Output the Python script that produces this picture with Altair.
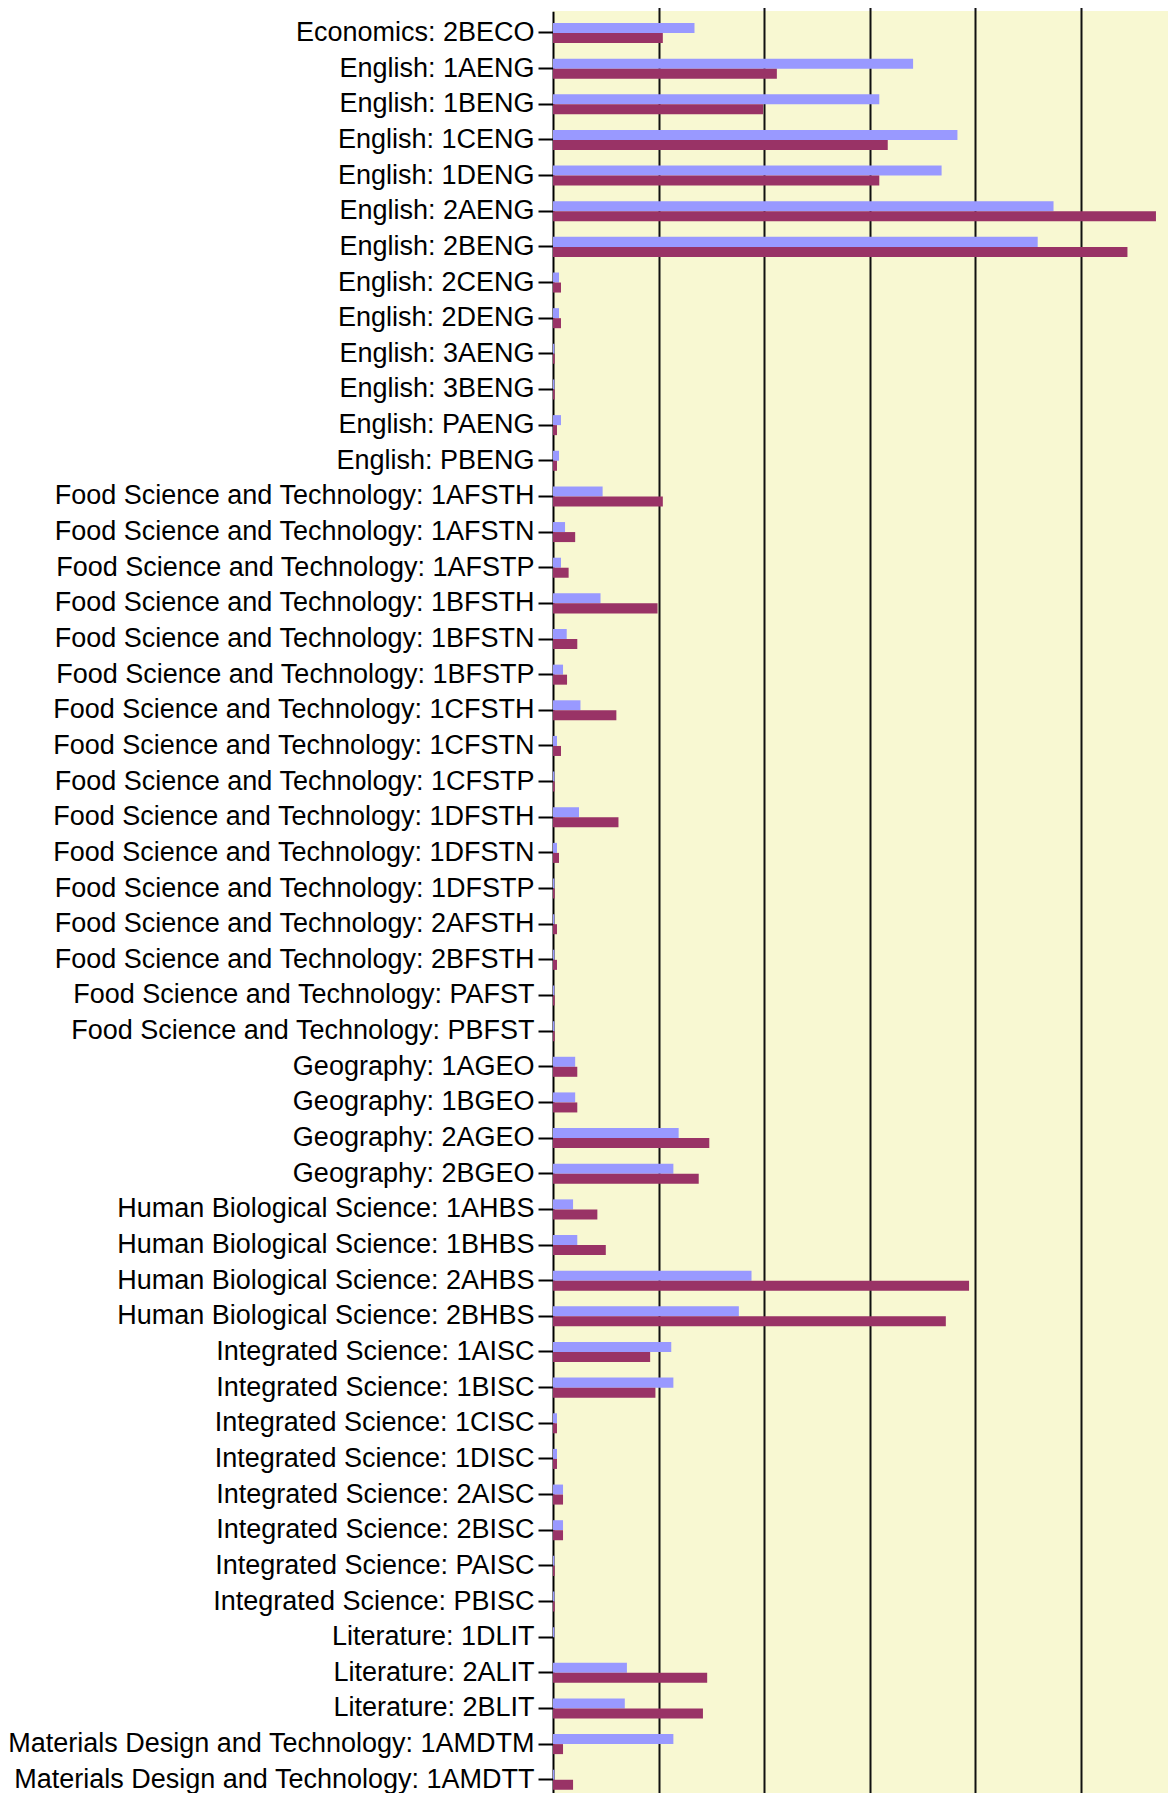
import altair as alt
import pandas as pd

categories = [
    "Economics: 2BECO",
    "English: 1AENG", "English: 1BENG", "English: 1CENG", "English: 1DENG",
    "English: 2AENG", "English: 2BENG", "English: 2CENG", "English: 2DENG",
    "English: 3AENG", "English: 3BENG", "English: PAENG", "English: PBENG",
    "Food Science and Technology: 1AFSTH", "Food Science and Technology: 1AFSTN",
    "Food Science and Technology: 1AFSTP", "Food Science and Technology: 1BFSTH",
    "Food Science and Technology: 1BFSTN", "Food Science and Technology: 1BFSTP",
    "Food Science and Technology: 1CFSTH", "Food Science and Technology: 1CFSTN",
    "Food Science and Technology: 1CFSTP", "Food Science and Technology: 1DFSTH",
    "Food Science and Technology: 1DFSTN", "Food Science and Technology: 1DFSTP",
    "Food Science and Technology: 2AFSTH", "Food Science and Technology: 2BFSTH",
    "Food Science and Technology: PAFST", "Food Science and Technology: PBFST",
    "Geography: 1AGEO", "Geography: 1BGEO", "Geography: 2AGEO", "Geography: 2BGEO",
    "Human Biological Science: 1AHBS", "Human Biological Science: 1BHBS",
    "Human Biological Science: 2AHBS", "Human Biological Science: 2BHBS",
    "Integrated Science: 1AISC", "Integrated Science: 1BISC",
    "Integrated Science: 1CISC", "Integrated Science: 1DISC",
    "Integrated Science: 2AISC", "Integrated Science: 2BISC",
    "Integrated Science: PAISC", "Integrated Science: PBISC",
    "Literature: 1DLIT", "Literature: 2ALIT", "Literature: 2BLIT",
    "Materials Design and Technology: 1AMDTM",
    "Materials Design and Technology: 1AMDTT",
]

series_names = ["Series 1", "Series 2"]

series_1 = [
    13.4,
    34.1, 30.9, 38.3, 36.8, 47.4, 45.9, 0.57, 0.57, 0.13, 0.13, 0.76, 0.57,
    4.7, 1.14, 0.76, 4.5, 1.3, 0.95, 2.6, 0.38, 0.13, 2.46, 0.38, 0.13,
    0.13, 0.13, 0.13, 0.13,
    2.1, 2.1, 11.9, 11.4,
    1.9, 2.3, 18.8, 17.6,
    11.2, 11.4, 0.38, 0.38, 0.95, 0.95, 0.13, 0.13,
    0.13, 7.0, 6.8,
    11.4, 0.13,
]

series_2 = [
    10.4,
    21.2, 19.9, 31.7, 30.9, 57.1, 54.4, 0.76, 0.76, 0.16, 0.16, 0.38, 0.38,
    10.4, 2.1, 1.48, 9.9, 2.3, 1.33, 6.0, 0.76, 0.16, 6.2, 0.57, 0.16,
    0.38, 0.38, 0.16, 0.16,
    2.3, 2.3, 14.8, 13.8,
    4.2, 5.0, 39.4, 37.2,
    9.2, 9.7, 0.38, 0.38, 0.95, 0.95, 0.16, 0.16,
    0.0, 14.6, 14.2,
    0.95, 1.9,
]

grid_values = [10, 20, 30, 40, 50]
colors = ["#9999FF", "#993366"]

rows = []
for cat, a, b in zip(categories, series_1, series_2):
    rows.append({"label": cat, "series": series_names[0], "value": a})
    rows.append({"label": cat, "series": series_names[1], "value": b})
df = pd.DataFrame(rows)

chart = (
    alt.Chart(df)
    .mark_bar()
    .encode(
        y=alt.Y(
            "label:N",
            sort=categories,
            scale=alt.Scale(paddingInner=0, paddingOuter=0.11, range=[0.25, 1790.5]),
            axis=alt.Axis(
                title=None,
                labelFont="Liberation Sans",
                labelFontSize=27,
                labelColor="black",
                labelPadding=4,
                labelLimit=0,
                tickColor="black",
                tickSize=15,
                tickWidth=2,
                domainColor="black",
                domainWidth=2,
                grid=False,
            ),
        ),
        yOffset=alt.YOffset(
            "series:N",
            sort=series_names,
            scale=alt.Scale(paddingInner=0, paddingOuter=0.78),
        ),
        x=alt.X(
            "value:Q",
            scale=alt.Scale(domain=[0, 58.24], nice=False, zero=True),
            axis=alt.Axis(
                title=None,
                grid=True,
                labels=False,
                ticks=False,
                domain=False,
                values=grid_values,
                gridColor="#111111",
                gridWidth=2,
            ),
        ),
        color=alt.Color(
            "series:N",
            scale=alt.Scale(domain=series_names, range=colors),
            legend=None,
        ),
    )
    .properties(
        width=615,
        height=1782,
        autosize=alt.AutoSizeParams(type="none"),
        padding={"left": 545, "top": 3, "right": 0, "bottom": 0},
    )
    .configure_view(fill="#F8F8D2", stroke=None)
)

chart.save("out.html", embed_options={"renderer": "svg", "actions": False})
